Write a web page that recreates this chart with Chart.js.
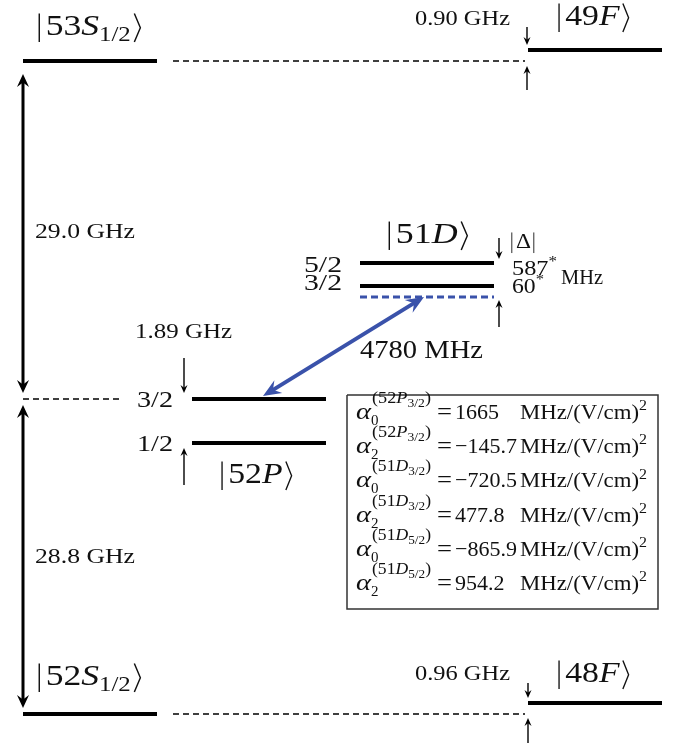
<!DOCTYPE html>
<html>
<head>
<meta charset="utf-8">
<script src="https://cdn.jsdelivr.net/npm/chart.js@4"></script>
<style>
  html, body { margin: 0; padding: 0; background: #fff; }
  #wrap { width: 676px; height: 748px; position: relative; }
</style>
</head>
<body>
<div id="wrap"><canvas id="diagram"></canvas></div>
<script>
// levels: vertical position in diagram units (0 = top of the figure)
const levelNames = ['53S1/2', '49F', '52P3/2', '52P1/2', '51D5/2', '51D3/2', '52S1/2', '48F'];
const levelColumn = [0, 3, 1, 1, 2, 2, 0, 3];
const levelPos = [61, 50, 399, 443, 263, 286, 714, 703];
const dressedPos = 297; // blue dashed level below 51D3/2

const gapLabels = ['29.0 GHz', '28.8 GHz', '0.90 GHz', '0.96 GHz', '1.89 GHz'];
const deltaLabels = ['587', '60'];
const transitionLabel = '4780 MHz';

// polarizabilities shown in the box
const polState = ['52P3/2', '52P3/2', '51D3/2', '51D3/2', '51D5/2', '51D5/2'];
const polOrder = ['0', '2', '0', '2', '0', '2'];
const polValues = ['1665', '\u2212145.7', '\u2212720.5', '477.8', '\u2212865.9', '954.2'];

const SERIF = '"Liberation Serif", "Times New Roman", Times, serif';
const BLUE = '#3a52aa';
const colLeft = [23, 192, 360, 528];
const colWidth = 134;

function segment(x0, y0, x1, y1, color, width, dash) {
  return {
    data: [{ x: x0, y: y0 }, { x: x1, y: y1 }],
    borderColor: color,
    borderWidth: width,
    borderDash: dash || [],
    borderCapStyle: 'butt',
    showLine: true,
    pointRadius: 0,
    fill: false,
    clip: false
  };
}

const arrowKinds = {
  big: { w: 3, L: 13, W: 6, color: '#000' },
  small: { w: 1.4, L: 8, W: 3.5, color: '#000' },
  blue: { w: 4, L: 18, W: 7.5, color: BLUE }
};

// [x0, y0, x1(tip), y1(tip), kind, double-headed]
const arrows = [
  [23, levelPos[0] + 13, 23, levelPos[2] - 6, 'big', true],
  [23, levelPos[2] + 6, 23, levelPos[6] - 6, 'big', true],
  [527, 27, 527, levelPos[1] - 5, 'small', false],
  [527, 90, 527, levelPos[0] + 5, 'small', false],
  [184, 358, 184, levelPos[2] - 6, 'small', false],
  [184, 485, 184, levelPos[3] + 5, 'small', false],
  [499, 238, 499, levelPos[4] - 4, 'small', false],
  [499, 327, 499, dressedPos + 3, 'small', false],
  [528, 683, 528, levelPos[7] - 5, 'small', false],
  [528, 743, 528, levelPos[6] + 4, 'small', false],
  [424, dressedPos, 263, levelPos[2] - 3, 'blue', true]
];

const datasets = [];
levelPos.forEach((y, i) => {
  const x0 = colLeft[levelColumn[i]];
  datasets.push(segment(x0, y, x0 + colWidth, y, '#000', 4));
});
datasets.push(segment(colLeft[2], dressedPos, colLeft[2] + colWidth, dressedPos, BLUE, 3, [7, 4]));
datasets.push(segment(173, levelPos[0], 525, levelPos[0], '#000', 1.3, [6, 4]));
datasets.push(segment(173, levelPos[6], 525, levelPos[6], '#000', 1.3, [6, 4]));
datasets.push(segment(23, levelPos[2], 123, levelPos[2], '#000', 1.3, [6, 4]));

arrows.forEach(a => {
  const k = arrowKinds[a[4]];
  const dx = a[2] - a[0], dy = a[3] - a[1];
  const len = Math.hypot(dx, dy);
  const ux = dx / len, uy = dy / len;
  const cut = k.L * 0.6;
  const sx = a[5] ? a[0] + ux * cut : a[0];
  const sy = a[5] ? a[1] + uy * cut : a[1];
  datasets.push(segment(sx, sy, a[2] - ux * cut, a[3] - uy * cut, k.color, k.w));
});

// box around the polarizabilities
datasets.push({
  data: [{ x: 347, y: 395 }, { x: 658, y: 395 }, { x: 658, y: 609 }, { x: 347, y: 609 }, { x: 347, y: 395 }],
  borderColor: '#333', borderWidth: 1.5, showLine: true, pointRadius: 0, fill: false, clip: false
});

// rich text helpers
const r = t => ({ t });
const it = t => ({ t, i: true });
const sb = (t, i) => ({ t, k: 0.7, dy: 0.22, i });
const sp = (t, i) => ({ t, k: 0.7, dy: -0.4, i });
const bar = { bar: true };
const ket = { ket: true };

function partWidth(ctx, p, size) {
  if (p.bar) return 0.3 * size;
  if (p.ket) return 0.4 * size;
  const s = size * (p.k || 1);
  ctx.font = (p.i ? 'italic ' : '') + s + 'px ' + SERIF;
  return ctx.measureText(p.t).width;
}

function rich(ctx, x, y, size, parts, width) {
  if (typeof parts === 'string') parts = [r(parts)];
  const widths = parts.map(p => partWidth(ctx, p, size));
  const total = widths.reduce((a, b) => a + b, 0);
  const sx = width ? width / total : 1;
  ctx.save();
  ctx.translate(x, y);
  ctx.scale(sx, 1);
  ctx.fillStyle = '#111';
  ctx.strokeStyle = '#111';
  ctx.textBaseline = 'alphabetic';
  let cx = 0;
  parts.forEach((p, j) => {
    if (p.bar) {
      ctx.lineWidth = 0.04 * size;
      ctx.beginPath();
      ctx.moveTo(cx + 0.12 * size, -0.74 * size);
      ctx.lineTo(cx + 0.12 * size, 0.24 * size);
      ctx.stroke();
    } else if (p.ket) {
      ctx.lineWidth = 0.04 * size;
      ctx.beginPath();
      ctx.moveTo(cx + 0.1 * size, -0.74 * size);
      ctx.lineTo(cx + 0.27 * size, -0.25 * size);
      ctx.lineTo(cx + 0.1 * size, 0.24 * size);
      ctx.stroke();
    } else {
      const s = size * (p.k || 1);
      ctx.font = (p.i ? 'italic ' : '') + s + 'px ' + SERIF;
      ctx.fillText(p.t, cx, (p.dy || 0) * size);
    }
    cx += widths[j];
  });
  ctx.restore();
}

function splitState(s) {
  return [s.slice(0, 2), s.slice(2, 3), s.slice(3)];
}

const texts = [
  [35, 35, 29, [bar, r('53'), it('S'), sb('1/2'), ket], 110],
  [555, 25, 29, [bar, r('49'), it('F'), ket], 78],
  [35, 685, 29, [bar, r('52'), it('S'), sb('1/2'), ket], 110],
  [555, 682, 29, [bar, r('48'), it('F'), ket], 78],
  [218, 483, 29, [bar, r('52'), it('P'), ket], 78],
  [385, 243, 29, [bar, r('51'), it('D'), ket], 87],
  [35, 238, 22, gapLabels[0], 100],
  [35, 563, 22, gapLabels[1], 100],
  [415, 25, 21, gapLabels[2], 95],
  [415, 680, 21, gapLabels[3], 95],
  [135, 338, 22, gapLabels[4], 97],
  [137, 407, 23, '3/2', 36],
  [137, 451, 23, '1/2', 36],
  [304, 272, 23, '5/2', 38],
  [304, 290, 23, '3/2', 38],
  [509, 248, 21, [bar, r('\u0394'), bar], 29],
  [512, 275, 22, [r(deltaLabels[0]), sp('*')], 45],
  [512, 293, 22, [r(deltaLabels[1]), sp('*')], 32],
  [561, 284, 21, 'MHz', 42],
  [360, 358, 25, transitionLabel, 123]
];

polValues.forEach((v, i) => {
  const base = 419 + 34.2 * i;
  const st = splitState(polState[i]);
  texts.push([356, base, 24, [it('\u03b1')], 15]);
  texts.push([371, base + 6, 15, polOrder[i], null]);
  texts.push([372, base - 16, 16, [r('(' + st[0]), it(st[1]), { t: st[2], k: 0.75, dy: 0.25 }, r(')')], 59]);
  texts.push([437, base, 23, '=', 15]);
  texts.push([455, base, 22, v, null]);
  texts.push([520, base, 22, [r('MHz/(V/cm)'), sp('2')], 127]);
});

const diagramPlugin = {
  id: 'diagramLayer',
  afterDatasetsDraw(chart) {
    const ctx = chart.ctx;
    const xs = chart.scales.x, ys = chart.scales.y;
    // arrowheads
    arrows.forEach(a => {
      const k = arrowKinds[a[4]];
      const p0 = [xs.getPixelForValue(a[0]), ys.getPixelForValue(a[1])];
      const p1 = [xs.getPixelForValue(a[2]), ys.getPixelForValue(a[3])];
      const heads = a[5] ? [[p1, p0], [p0, p1]] : [[p0, p1]];
      heads.forEach(([from, tip]) => {
        const ang = Math.atan2(tip[1] - from[1], tip[0] - from[0]);
        ctx.save();
        ctx.translate(tip[0], tip[1]);
        ctx.rotate(ang);
        ctx.fillStyle = k.color;
        ctx.beginPath();
        ctx.moveTo(0, 0);
        ctx.lineTo(-k.L, k.W);
        ctx.lineTo(-k.L * 0.65, 0);
        ctx.lineTo(-k.L, -k.W);
        ctx.closePath();
        ctx.fill();
        ctx.restore();
      });
    });
    texts.forEach(t => {
      rich(ctx, xs.getPixelForValue(t[0]), ys.getPixelForValue(t[1]), t[2], t[3], t[4]);
    });
  }
};

new Chart(document.getElementById('diagram').getContext('2d'), {
  type: 'scatter',
  data: { datasets: datasets },
  options: {
    responsive: true,
    maintainAspectRatio: false,
    animation: false,
    events: [],
    layout: { padding: 0 },
    scales: {
      x: { type: 'linear', min: 0, max: 676, display: false },
      y: { type: 'linear', min: 0, max: 748, reverse: true, display: false }
    },
    plugins: {
      legend: { display: false },
      tooltip: { enabled: false }
    }
  },
  plugins: [diagramPlugin]
});
</script>
</body>
</html>
